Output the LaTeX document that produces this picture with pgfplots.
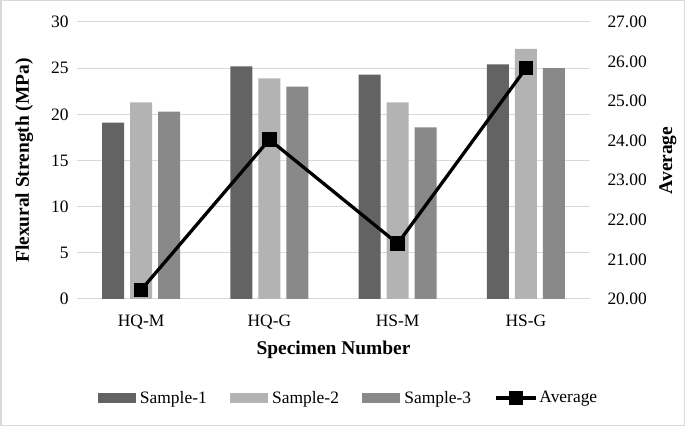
\documentclass[border=0pt]{standalone}
\usepackage{fontspec}
\setmainfont{Liberation Serif}
\usepackage{pgfplots}
\pgfplotsset{compat=1.18}
\definecolor{sone}{HTML}{636363}
\definecolor{stwo}{HTML}{B3B3B3}
\definecolor{sthree}{HTML}{898989}
\definecolor{gridc}{HTML}{D9D9D9}
\begin{document}
\begin{tikzpicture}
\useasboundingbox (0,0) rectangle (685bp,426bp);
\draw[gridc, line width=1.5bp] (0.75bp,0.75bp) rectangle (684.25bp,425.25bp);
\begin{axis}[
 at={(77bp,127bp)}, anchor=south west,
 width=513bp, height=277bp, scale only axis,
 xmin=-0.5, xmax=3.5, ymin=0, ymax=30,
 ytick={0,5,...,30},
 xtick={0,1,2,3}, xticklabels={HQ-M,HQ-G,HS-M,HS-G},
 ybar=6bp, bar width=22bp,
 ymajorgrids, grid style={gridc, line width=1bp},
 axis line style={draw=none},
 major tick length=0pt,
 tick label style={font=\fontsize{17.5}{20}\selectfont},
 /pgf/number format/assume math mode=true,
 yticklabel style={xshift=-5bp},
 xticklabel style={yshift=-12bp},
 xlabel={Specimen Number},
 ylabel={Flexural Strength (MPa)},
 label style={font=\fontsize{19.5}{23}\selectfont\bfseries},
 xlabel style={at={(axis description cs:0.5,-0.184)}, anchor=center},
 ylabel style={at={(axis description cs:-0.103,0.5)}, anchor=center},
]
\addplot[fill=sone, draw=none] coordinates {(0,19.1) (1,25.2) (2,24.3) (3,25.4)};
\addplot[fill=stwo, draw=none] coordinates {(0,21.3) (1,23.9) (2,21.3) (3,27.1)};
\addplot[fill=sthree, draw=none] coordinates {(0,20.3) (1,23.0) (2,18.6) (3,25.0)};
\end{axis}
\begin{axis}[
 at={(77bp,127bp)}, anchor=south west,
 width=513bp, height=277bp, scale only axis,
 xmin=-0.5, xmax=3.5, ymin=20, ymax=27,
 ytick={20,21,...,27},
 axis x line=none, axis y line*=right,
 axis line style={draw=none},
 major tick length=0pt,
 tick label style={font=\fontsize{17.5}{20}\selectfont},
 /pgf/number format/assume math mode=true,
 yticklabel style={xshift=14bp, /pgf/number format/.cd, fixed, fixed zerofill, precision=2},
 ylabel={Average},
 label style={font=\fontsize{19.5}{23}\selectfont\bfseries},
 ylabel style={at={(axis description cs:1.152,0.5)}, anchor=center, rotate=0},
 legend style={at={(0.529,-0.357)}, anchor=center, draw=none, fill=none,
   legend columns=4, font=\fontsize{17.5}{20}\selectfont,
   /tikz/every even column/.append style={column sep=21bp}},
]
\addlegendimage{legend image code/.code={\fill[sone] (0bp,-4.5bp) rectangle (37bp,4.5bp); \path (40bp,0bp);}}
\addlegendentry{Sample-1}
\addlegendimage{legend image code/.code={\fill[stwo] (0bp,-4.5bp) rectangle (37bp,4.5bp); \path (40bp,0bp);}}
\addlegendentry{Sample-2}
\addlegendimage{legend image code/.code={\fill[sthree] (0bp,-4.5bp) rectangle (37bp,4.5bp); \path (40bp,0bp);}}
\addlegendentry{Sample-3}
\addplot[black, line width=3.3bp, mark=square*, mark size=5.5bp, mark options={solid},
  legend image code/.code={\draw[black, line width=3.3bp] (0bp,0bp) -- (40bp,0bp); \fill[black] (14.5bp,-5.5bp) rectangle (25.5bp,5.5bp);}]
  coordinates {(0,20.23) (1,24.03) (2,21.40) (3,25.83)};
\addlegendentry{Average}
\end{axis}
\end{tikzpicture}
\end{document}
